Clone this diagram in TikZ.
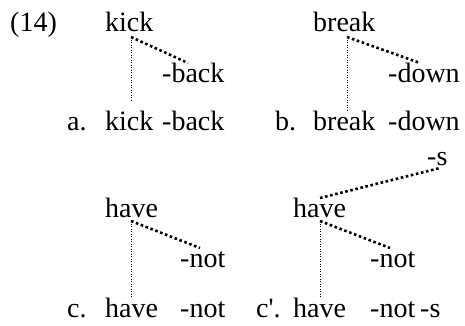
\documentclass[tikz,border=0pt]{standalone}
\usepackage{fontspec}
\setmainfont{Liberation Serif}
\begin{document}
\begin{tikzpicture}[x=1pt,y=-1pt,
  word/.style={anchor=base west,inner sep=0pt,font=\fontsize{28}{34}\selectfont},
  thin dots/.style={line width=1pt,dash pattern=on 1pt off 1.5pt},
  thick dots/.style={line width=2.6pt,dash pattern=on 2.6pt off 2.6pt}]
\useasboundingbox (0,0) rectangle (465,325);
% top row
\node[word] (num) at (10,31) {(14)};
\node[word] (kickT) at (105,31) {kick};
\node[word] (breakT) at (313,31) {break};
\node[word] (backT) at (162,82) {-back};
\node[word] (downT) at (388,82) {-down};
% row a / b
\node[word] (la) at (67,130) {a.};
\node[word] (kickA) at (105,130) {kick};
\node[word] (backA) at (162,130) {-back};
\node[word] (lb) at (275,130) {b.};
\node[word] (breakB) at (313,130) {break};
\node[word] (downB) at (388,130) {-down};
% trees c / c'
\node[word] (haveT) at (105,217) {have};
\node[word] (notT) at (180,267) {-not};
\node[word] (sT) at (427,165) {-s};
\node[word] (haveT2) at (293,217) {have};
\node[word] (notT2) at (370,267) {-not};
% row c / c'
\node[word] (lc) at (67,317) {c.};
\node[word] (haveC) at (105,317) {have};
\node[word] (notC) at (180,317) {-not};
\node[word] (lc2) at (256,317) {c\textquotesingle.};
\node[word] (haveC2) at (293,317) {have};
\node[word] (notC2) at (370,317) {-not};
\node[word] (sC2) at (420,317) {-s};
% connector points
\coordinate (kr) at (131,37);
\coordinate (kv) at (131,102);
\coordinate (kb) at (188,63);
\coordinate (br) at (347,37);
\coordinate (bv) at (347,112);
\coordinate (bd) at (420,63);
\coordinate (hr) at (131,221);
\coordinate (hv) at (131,297);
\coordinate (hn) at (200,248);
\coordinate (h2r) at (320,221);
\coordinate (h2v) at (320,297);
\coordinate (h2n) at (390,248);
\coordinate (h2t) at (320,198);
\coordinate (s2) at (440,168);
% connectors
\draw[thin dots] (kr) -- (kv);
\draw[thick dots] (kr) -- (kb);
\draw[thin dots] (br) -- (bv);
\draw[thick dots] (br) -- (bd);
\draw[thin dots] (hr) -- (hv);
\draw[thick dots] (hr) -- (hn);
\draw[thin dots] (h2r) -- (h2v);
\draw[thick dots] (h2r) -- (h2n);
\draw[thick dots] (h2t) -- (s2);
\end{tikzpicture}
\end{document}
